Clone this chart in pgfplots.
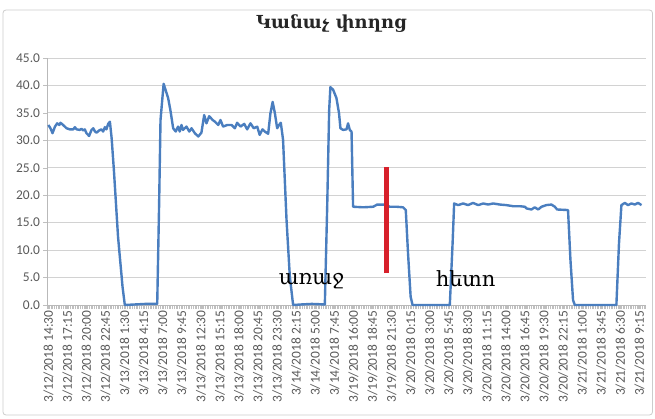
\documentclass[border=0pt]{standalone}
\usepackage{fontspec}
\usepackage{pgfplots}
\pgfplotsset{compat=1.18}
\setmainfont{Carlito}
\newfontfamily\armfont{DejaVu Serif}

\definecolor{lineblue}{HTML}{4A7EBF}
\definecolor{markred}{HTML}{D7202B}
\definecolor{ticktext}{HTML}{595959}

\begin{document}
\begin{tikzpicture}
  % page = 655 x 419 px, axis box lower left at (47.5, 305) px
  \path[use as bounding box] (-47.5bp,-114bp) rectangle (607.5bp,305bp);
  \draw[gray!40, line width=0.8bp, rounded corners=3bp] (-44.5bp,-110bp) rectangle (605bp,295bp);

  \node[font=\armfont\bfseries\fontsize{18}{20}\selectfont, text=black!85] at (284bp,281bp) {Կանաչ փողոց};

  \begin{axis}[
    at={(0,0)}, anchor=south west,
    scale only axis, width=598bp, height=247bp,
    xmin=-0.5, xmax=344.5, ymin=0, ymax=45,
    axis lines*=left,
    axis line style={gray!55, line width=0.8bp},
    ytick={0,5,...,45},
    yticklabel style={/pgf/number format/fixed, /pgf/number format/precision=1,
      /pgf/number format/fixed zerofill, font=\fontsize{13.5}{15}\selectfont, text=ticktext},
    /pgf/number format/assume math mode=true,
    xtick={0,11,...,341},
    xticklabels={3/12/2018 14:30, 3/12/2018 17:15, 3/12/2018 20:00, 3/12/2018 22:45,
      3/13/2018 1:30, 3/13/2018 4:15, 3/13/2018 7:00, 3/13/2018 9:45, 3/13/2018 12:30,
      3/13/2018 15:15, 3/13/2018 18:00, 3/13/2018 20:45, 3/13/2018 23:30,
      3/14/2018 2:15, 3/14/2018 5:00, 3/14/2018 7:45,
      3/19/2018 16:00, 3/19/2018 18:45, 3/19/2018 21:30,
      3/20/2018 0:15, 3/20/2018 3:00, 3/20/2018 5:45, 3/20/2018 8:30, 3/20/2018 11:15,
      3/20/2018 14:00, 3/20/2018 16:45, 3/20/2018 19:30, 3/20/2018 22:15,
      3/21/2018 1:00, 3/21/2018 3:45, 3/21/2018 6:30, 3/21/2018 9:15},
    xticklabel style={rotate=90, anchor=east, font=\fontsize{13.5}{15}\selectfont, text=ticktext, inner sep=1.5bp},
    minor xtick={-0.5,0.5,...,344.5},
    tick align=outside,
    major tick length=4bp, minor tick length=4bp,
    tick style={gray!50, line width=0.5bp},
    ymajorgrids, grid style={gray!35, line width=0.8bp},
    clip=false,
  ]
    \addplot[lineblue, line width=2.4bp, line join=round] coordinates {
      (0,32.8)(1.2,32.2)(2.4,31.3)(3.8,32.5)(5.1,33.1)(6.3,32.8)(7.0,33.2)(8.5,32.8)
      (10.5,32.2)(12.4,32.0)(14.4,32.0)(15.3,32.4)(16.3,32.0)(18.1,31.9)(19.1,32.1)
      (20.1,31.8)(21.0,32.0)(22.0,31.3)(23.5,30.8)(24.9,31.9)(25.9,32.2)(26.9,31.6)
      (27.8,31.4)(29.3,31.8)(30.6,32.0)(31.6,31.6)(32.6,32.4)(33.5,32.0)(34.5,33.0)
      (35.5,33.4)(36.5,30.4)(37.8,24.6)(40.2,12.4)(42.8,3.3)(44.1,0)
      (50,0.1)(56,0.2)(62.8,0.2)
      (63.9,18.5)(64.7,33.7)(66.5,40.3)(69.1,37.7)(70.4,35.5)(72.0,32.2)(73.5,31.6)
      (74.8,32.5)(75.8,31.6)(76.8,32.8)(77.7,31.9)(79.7,32.5)(81.3,31.6)(82.6,32.2)
      (84.5,31.3)(86.5,30.7)(88.3,31.4)(89.9,34.6)(91.2,33.1)(92.8,34.4)(94.8,33.7)
      (96.1,33.4)(98.0,32.8)(99.3,33.7)(100.8,32.5)(103.2,32.8)(105.7,32.8)(107.6,32.2)
      (108.9,33.2)(110.9,32.5)(113.0,33.0)(114.7,32.0)(116.6,33.1)(118.5,32.2)(120.5,32.5)
      (121.9,31.0)(123.5,32.0)(124.9,31.6)(126.8,31.2)(128.1,34.9)(129.4,37.0)(130.7,34.9)
      (132.0,32.2)(133.1,32.8)(134.1,33.2)(135.4,30.1)(137.4,15.5)(139.3,5.2)(141.2,0)
      (146,0.1)(152,0.2)(159.5,0.1)
      (160.9,18.5)(162.0,35.5)(162.7,39.7)(164.3,39.2)(166.2,37.7)(167.7,34.9)(168.5,32.2)
      (170.0,31.9)(172.0,32.0)(172.9,33.1)(173.9,31.9)(174.9,31.6)(175.8,17.9)(181.6,17.8)
      (187.4,17.9)(189.7,18.3)(194.1,18.3)(197.0,17.9)(200.9,17.9)(204.6,17.8)(206.2,17.3)
      (207.5,9.4)(209.0,1.5)(210.1,0)
      (231.6,0)
      (233.2,11.2)(234.1,18.5)(236.4,18.2)(239.3,18.5)(242.1,18.2)(245.0,18.6)(248.0,18.2)
      (250.9,18.5)(253.7,18.3)(256.6,18.5)(260.5,18.3)(264.2,18.2)(268.1,18.0)(272.0,18.0)
      (274.9,17.9)(275.8,17.6)(278.7,17.4)(280.6,17.8)(282.6,17.4)(284.5,17.9)(287.3,18.2)
      (290.2,18.3)(292.2,17.9)(293.5,17.4)(299.8,17.3)(301.2,8.2)(302.7,0.9)(303.7,0)
      (327.7,0)
      (329.2,11.2)(330.6,18.2)(332.6,18.6)(334.4,18.2)(336.4,18.5)(338.3,18.3)(340.2,18.6)
      (342.2,18.2)
    };
    \addplot[markred, line width=5bp] coordinates {(195.1,5.8)(195.1,25.2)};
    \node[font=\armfont\fontsize{21}{23}\selectfont, anchor=base] at (axis cs:151.8,3.8) {առաջ};
    \node[font=\armfont\fontsize{21}{23}\selectfont, anchor=base] at (axis cs:240.8,3.4) {հետո};
  \end{axis}
\end{tikzpicture}
\end{document}
